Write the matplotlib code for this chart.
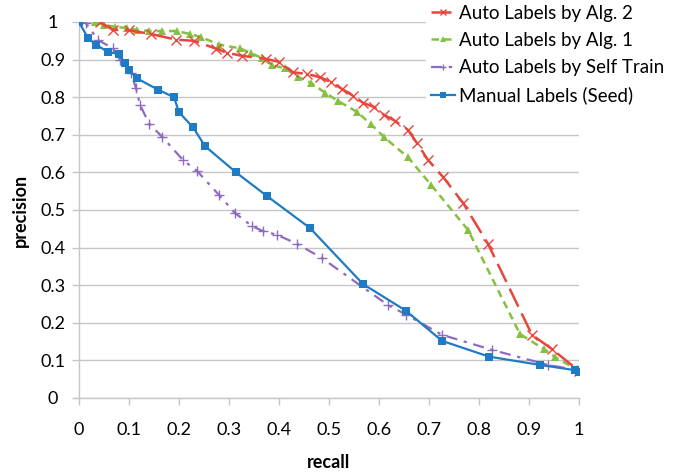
import matplotlib
matplotlib.use('Agg')
import matplotlib.pyplot as plt
import numpy as np

plt.rcParams['font.family'] = ['Lato', 'DejaVu Sans']

# Auto Labels by Alg. 2
alg2_recall = [0.042, 0.068, 0.1, 0.144, 0.194, 0.23, 0.274, 0.296, 0.326, 0.374,
               0.4, 0.428, 0.456, 0.482, 0.504, 0.526, 0.548, 0.568, 0.59, 0.61,
               0.632, 0.658, 0.676, 0.698, 0.728, 0.768, 0.818, 0.906, 0.946, 1.0]
alg2_prec = [1.0, 0.979, 0.978, 0.968, 0.953, 0.95, 0.929, 0.918, 0.91, 0.902,
             0.894, 0.866, 0.862, 0.853, 0.84, 0.822, 0.804, 0.785, 0.774, 0.753,
             0.737, 0.713, 0.678, 0.633, 0.588, 0.519, 0.41, 0.168, 0.13, 0.072]

# Auto Labels by Alg. 1
alg1_recall = [0.032, 0.05, 0.072, 0.096, 0.116, 0.14, 0.166, 0.196, 0.222, 0.244,
               0.28, 0.322, 0.344, 0.366, 0.386, 0.412, 0.438, 0.464, 0.492, 0.518,
               0.556, 0.584, 0.61, 0.658, 0.704, 0.778, 0.882, 0.93, 0.952, 1.0]
alg1_prec = [1.0, 0.992, 0.987, 0.984, 0.979, 0.976, 0.976, 0.976, 0.968, 0.96,
             0.94, 0.93, 0.917, 0.904, 0.885, 0.877, 0.854, 0.838, 0.812, 0.79,
             0.761, 0.728, 0.694, 0.64, 0.567, 0.447, 0.17, 0.13, 0.109, 0.072]

# Auto Labels by Self Train
self_recall = [0.0, 0.014, 0.038, 0.068, 0.082, 0.104, 0.114, 0.122, 0.14, 0.166,
               0.208, 0.236, 0.28, 0.312, 0.346, 0.368, 0.396, 0.436, 0.486, 0.618,
               0.654, 0.726, 0.826, 0.938, 0.996]
self_prec = [1.0, 0.997, 0.952, 0.93, 0.9, 0.864, 0.824, 0.78, 0.73, 0.695,
             0.633, 0.604, 0.54, 0.492, 0.457, 0.444, 0.434, 0.41, 0.372, 0.247,
             0.222, 0.168, 0.128, 0.088, 0.074]

# Manual Labels (Seed)
seed_recall = [0.0, 0.018, 0.034, 0.058, 0.08, 0.092, 0.1, 0.116, 0.158, 0.19,
               0.2, 0.228, 0.252, 0.314, 0.376, 0.462, 0.568, 0.654, 0.726, 0.82,
               0.922, 0.992, 1.0]
seed_prec = [1.0, 0.957, 0.94, 0.92, 0.915, 0.89, 0.872, 0.85, 0.82, 0.8,
             0.76, 0.72, 0.67, 0.6, 0.537, 0.452, 0.303, 0.232, 0.152, 0.11,
             0.088, 0.074, 0.069]

ticks = [0, 0.1, 0.2, 0.3, 0.4, 0.5, 0.6, 0.7, 0.8, 0.9, 1]
tick_labels = ['0', '0.1', '0.2', '0.3', '0.4', '0.5', '0.6', '0.7', '0.8', '0.9', '1']

fig = plt.figure(figsize=(6.8, 4.72), dpi=100)
ax = fig.add_axes([79/680, 1-398/472, 500/680, 376/472])

ax.plot(alg2_recall, alg2_prec, color='#e8453c', lw=1.8, dashes=(8, 3),
        marker='x', ms=7, mew=1.0, label='Auto Labels by Alg. 2', zorder=4)
ax.plot(alg1_recall, alg1_prec, color='#86c040', lw=1.8, dashes=(3, 2),
        marker='^', ms=6, mew=0, label='Auto Labels by Alg. 1', zorder=3)
ax.plot(self_recall, self_prec, color='#8e6bbf', lw=1.6, dashes=(5, 3, 1.5, 3),
        marker='+', ms=7, mew=1.0, label='Auto Labels by Self Train', zorder=2)
ax.plot(seed_recall, seed_prec, color='#1f7bc4', lw=1.6, ls='-',
        marker='s', ms=6, mew=0, label='Manual Labels (Seed)', zorder=5)

ax.set_xlim(0, 1)
ax.set_ylim(0, 1)
ax.set_xticks(ticks)
ax.set_xticklabels(tick_labels)
ax.set_yticks(ticks)
ax.set_yticklabels(tick_labels)
ax.grid(axis='y', color='#c6c6c6', lw=1)
ax.set_axisbelow(True)
for s in ['top', 'right']:
    ax.spines[s].set_visible(False)
for s in ['left', 'bottom']:
    ax.spines[s].set_color('#c6c6c6')
    ax.spines[s].set_linewidth(1)
ax.tick_params(axis='both', colors='#c6c6c6', labelcolor='black', labelsize=13,
               length=5, width=1, direction='out')
ax.tick_params(axis='x', pad=12)
ax.tick_params(axis='y', pad=14)

for lab in ax.get_yticklabels():
    lab.set_horizontalalignment('center')

ax.set_xlabel('recall', fontsize=13, fontweight='bold', labelpad=12)
ax.set_ylabel('precision', fontsize=13, fontweight='bold', labelpad=8)

for sp in ax.spines.values():
    sp.set_clip_on(False)

leg = ax.legend(loc='upper left', bbox_to_anchor=(426/680, 1.0), bbox_transform=fig.transFigure,
                frameon=True, fontsize=13.5, handlelength=1.3, handletextpad=0.2,
                labelspacing=0.55, borderaxespad=0, borderpad=0.25, markerscale=0.7)
leg.get_frame().set_facecolor('white')
leg.get_frame().set_edgecolor('white')
leg.get_frame().set_alpha(1)
leg.set_zorder(10)

fig.savefig('out.png', dpi=100)
